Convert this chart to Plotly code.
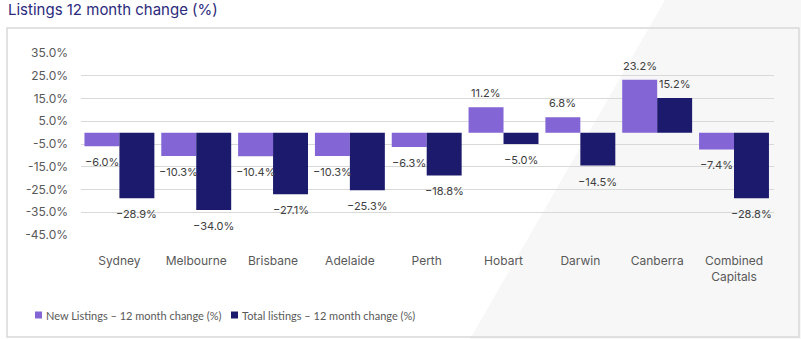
import plotly.graph_objects as go

categories = ["Sydney", "Melbourne", "Brisbane", "Adelaide", "Perth", "Hobart", "Darwin", "Canberra", "Combined<br>Capitals"]
new_listings = [-6.0, -10.3, -10.4, -10.3, -6.3, 11.2, 6.8, 23.2, -7.4]
total_listings = [-28.9, -34.0, -27.1, -25.3, -18.8, -5.0, -14.5, 15.2, -28.8]
series_names = ["New Listings – 12 month change (%)", "Total listings – 12 month change (%)"]
series_colors = ["#8365D5", "#1B1A6D"]
tick_values = [35, 25, 15, 5, -5, -15, -25, -35, -45]
tick_labels = ["35.0%", "25.0%", "15.0%", "5.0%", "-5.0%", "-15.0%", "-25.0%", "-35.0%", "-45.0%"]

W, H = 801, 339
L, R, T, B = 81, 27, 53, 104
pw, ph = W - L - R, H - T - B

def px(x):
    return (x - L) / pw

def py(y):
    return 1 - (y - T) / ph

fig = go.Figure()
annotations = []
for k, (vals, name, col) in enumerate(zip([new_listings, total_listings], series_names, series_colors)):
    fig.add_trace(go.Bar(
        x=categories, y=vals, name=name, showlegend=False,
        marker=dict(color=col, line=dict(width=0)),
    ))
    shift = -17.5 if k == 0 else 17.5
    for c, v in zip(categories, vals):
        annotations.append(dict(
            x=c, y=v, xref="x", yref="y", text=f"{v:.1f}%".replace("-", "\u2212"),
            showarrow=False, xshift=shift, yshift=(14 if v > 0 else -16),
            xanchor="center", yanchor="middle",
            font=dict(family="Inter", size=11, color="#404040"),
        ))

shapes = [
    dict(type="path", xref="paper", yref="paper",
         path=f"M {px(665)} {py(0)} L {px(801)} {py(0)} L {px(801)} {py(339)} L {px(470)} {py(339)} Z",
         fillcolor="#f7f7f7", line=dict(width=0), layer="below"),
    dict(type="rect", xref="paper", yref="paper",
         x0=px(7), x1=px(799), y0=py(28), y1=py(337),
         line=dict(color="#d9d9d9", width=1.5), fillcolor="rgba(0,0,0,0)", layer="below"),
]

# manual legend
legend_x = [35, 231]
for lx, name, col in zip(legend_x, series_names, series_colors):
    shapes.append(dict(type="rect", xref="paper", yref="paper",
                       x0=px(lx), x1=px(lx + 7), y0=py(318.5), y1=py(311.5),
                       fillcolor=col, line=dict(width=0)))
    annotations.append(dict(text=name, xref="paper", yref="paper",
                            x=px(lx + 9), y=py(315), xanchor="left", yanchor="middle",
                            showarrow=False,
                            font=dict(family="Lato", size=11, color="#595959")))

annotations.append(dict(text="Listings 12 month change (%)", xref="paper", yref="paper",
                        x=px(6), y=py(10), xanchor="left", yanchor="middle", showarrow=False,
                        font=dict(family="Inter", size=15, color="#2B2A7C")))

fig.update_layout(
    width=W, height=H,
    margin=dict(l=L, r=R, t=T, b=B, pad=0),
    paper_bgcolor="white", plot_bgcolor="rgba(0,0,0,0)",
    barmode="group", bargap=0.09, bargroupgap=0,
    showlegend=False,
    shapes=shapes,
    annotations=annotations,
    font=dict(family="Inter"),
)
fig.update_xaxes(showgrid=False, zeroline=False, showline=False, ticks="",
                 tickfont=dict(family="Inter", size=12, color="#595959"), ticklabelstandoff=17)
fig.update_yaxes(range=[-45, 35], tickvals=tick_values, ticktext=tick_labels,
                 showgrid=True, gridcolor="#d9d9d9", gridwidth=1, zeroline=False,
                 showline=False, ticks="", ticklabelstandoff=12,
                 tickfont=dict(family="Inter", size=12, color="#595959"))

fig.write_html("out.html")
